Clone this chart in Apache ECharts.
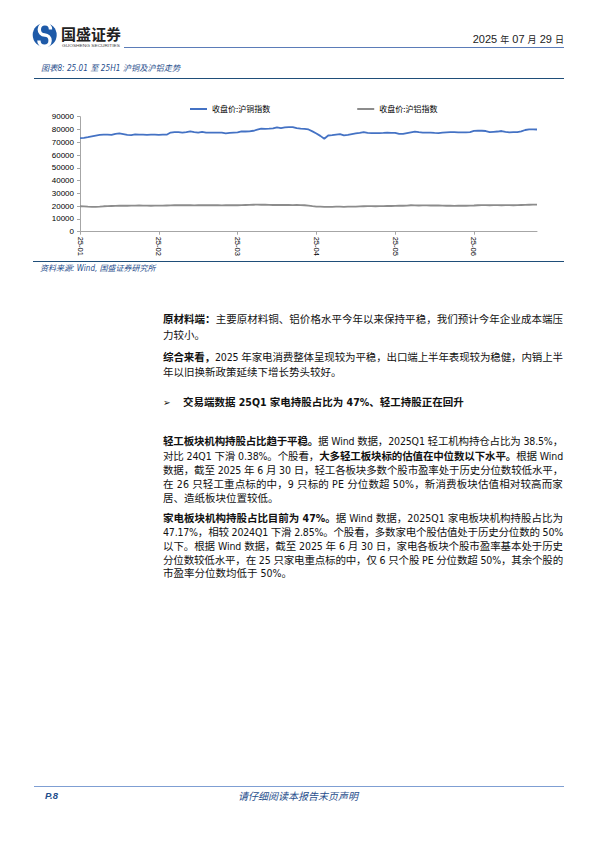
<!DOCTYPE html>
<html><head><meta charset="utf-8">
<script src="https://cdn.jsdelivr.net/npm/echarts@6/dist/echarts.min.js"></script>
<style>
html,body{margin:0;padding:0;background:#fff;}
#page{position:relative;width:595px;height:842px;overflow:hidden;background:#fff;}
#chart{position:absolute;left:0;top:0;width:595px;height:842px;}
.t{position:absolute;white-space:nowrap;font-family:"DejaVu Sans Condensed","DejaVu Sans","Noto Sans CJK SC",sans-serif;color:#111;z-index:2;}
.ln{position:absolute;left:163px;height:15px;line-height:15px;font-size:10.5px;font-family:"DejaVu Sans Condensed","DejaVu Sans","Noto Sans CJK SC",sans-serif;color:#111;white-space:nowrap;z-index:2;}
.ln b{font-weight:bold;}
.hr{position:absolute;height:0;z-index:2;}
.blue{color:#1f4e8c;font-style:italic;}
</style>
</head><body>
<div id="page">
<div id="chart"></div>

<!-- header -->
<svg class="t" style="left:0;top:0" width="140" height="56" xmlns="http://www.w3.org/2000/svg">
  <circle cx="44.7" cy="35" r="12" fill="#1e5aa8"/>
  <path d="M50.5 29.5 A5.6 5.6 0 1 0 44.7 35 A5.6 5.6 0 1 1 38.9 40.5" fill="none" stroke="#fff" stroke-width="3.4"/>
  <text x="62" y="46.8" font-size="4.2" font-family="Liberation Sans" fill="#444" textLength="58" lengthAdjust="spacingAndGlyphs">GUOSHENG SECURITIES</text>
</svg>
<div class="t" style="left:61px;top:26px;font-size:15px;line-height:15px;height:15px;font-weight:bold;font-family:'Noto Sans CJK SC';color:#222;">国盛证券</div>
<div class="t" style="right:31px;top:32px;font-size:11px;line-height:14px;color:#222;font-family:'Liberation Sans','Noto Sans CJK SC';">2025 <span style="font-size:9px;font-family:'Noto Sans CJK SC'">年</span> 07 <span style="font-size:9px;font-family:'Noto Sans CJK SC'">月</span> 29 <span style="font-size:9px;font-family:'Noto Sans CJK SC'">日</span></div>
<div class="hr" style="left:124px;width:440px;top:47px;border-top:1px solid #5b7cb8;"></div>

<div class="t blue" style="left:41px;top:62px;font-size:8.2px;line-height:12px;">图表8: 25.01 至 25H1 沪铜及沪铝走势</div>
<div class="hr" style="left:34px;width:530px;top:78px;border-top:1px solid #1f4e79;"></div>

<div class="hr" style="left:33px;width:531px;top:261px;border-top:1px solid #1f4e79;"></div>
<div class="t blue" style="left:40px;top:263px;font-size:8px;line-height:12px;">资料来源: Wind, 国盛证券研究所</div>

<!-- body -->
<div class="ln j" style="top:312px;"><b>原材料端：</b>主要原材料铜、铝价格水平今年以来保持平稳，我们预计今年企业成本端压</div>
<div class="ln" style="top:328px;">力较小。</div>
<div class="ln j" style="top:350px;"><b>综合来看，</b>2025 年家电消费整体呈现较为平稳，出口端上半年表现较为稳健，内销上半</div>
<div class="ln" style="top:365px;">年以旧换新政策延续下增长势头较好。</div>

<div class="ln" style="top:395px;"><span style="font-size:10px;font-weight:bold;">➢</span></div>
<div class="ln" style="top:395px;left:183px;"><b>交易端数据 25Q1 家电持股占比为 47%、轻工持股正在回升</b></div>

<div class="ln j" style="top:434px;"><b>轻工板块机构持股占比趋于平稳。</b>据 Wind 数据，2025Q1 轻工机构持仓占比为 38.5%，</div>
<div class="ln j" style="top:449px;">对比 24Q1 下滑 0.38%。个股看，<b>大多轻工板块标的估值在中位数以下水平。</b>根据 Wind</div>
<div class="ln j" style="top:463px;">数据，截至 2025 年 6 月 30 日，轻工各板块多数个股市盈率处于历史分位数较低水平，</div>
<div class="ln j" style="top:477px;">在 26 只轻工重点标的中，9 只标的 PE 分位数超 50%，新消费板块估值相对较高而家</div>
<div class="ln" style="top:491px;">居、造纸板块位置较低。</div>

<div class="ln j" style="top:511px;"><b>家电板块机构持股占比目前为 47%。</b>据 Wind 数据，2025Q1 家电板块机构持股占比为</div>
<div class="ln j" style="top:525px;">47.17%，相较 2024Q1 下滑 2.85%。个股看，多数家电个股估值处于历史分位数的 50%</div>
<div class="ln j" style="top:539px;">以下。根据 Wind 数据，截至 2025 年 6 月 30 日，家电各板块个股市盈率基本处于历史</div>
<div class="ln j" style="top:553px;">分位数较低水平，在 25 只家电重点标的中，仅 6 只个股 PE 分位数超 50%，其余个股的</div>
<div class="ln" style="top:566px;">市盈率分位数均低于 50%。</div>

<!-- footer -->
<div class="hr" style="left:34px;width:530px;top:786px;border-top:1.5px solid #7f9fd3;"></div>
<div class="t blue" style="left:45px;top:790px;font-size:9.5px;line-height:12px;font-weight:bold;font-family:'Liberation Sans';">P.8</div>
<div class="t blue" style="left:238px;width:120px;text-align:center;top:790px;font-size:10px;line-height:12px;font-family:'Noto Sans CJK SC';">请仔细阅读本报告末页声明</div>
</div>

<script>
// ---- data ----
const monthLabels = ['25-01', '25-02', '25-03', '25-04', '25-05', '25-06'];
const pointsPerMonth = [20, 20, 20, 20, 20, 17];
const seriesNames = ['收盘价:沪铜指数', '收盘价:沪铝指数'];
const yTicks = { min: 0, max: 90000, interval: 10000 };

const copper = [
  73300,73500,74000,74600,75200,75700,75900,75900,75700,76600,
  76900,76400,75800,75600,76100,76000,75900,75800,75900,75900,
  75800,75900,75900,77600,78000,77900,77500,77900,78500,78000,
  77600,78200,77600,77500,77600,77500,77500,77000,77400,77600,
  77700,78500,78400,78500,79000,79800,80600,80500,80600,80800,
  81600,81100,81600,81900,81900,81000,80600,80500,80000,78500,
  76900,75000,72800,75300,75600,76000,76400,75400,75800,76400,
  76900,77300,77900,77300,77200,77200,77200,77300,77500,77400,
  77400,76600,76600,77200,77800,78400,77900,77600,77600,77500,
  77300,77200,77500,77700,77900,78000,77800,77700,77800,78000,
  78900,79000,79000,78800,78000,78200,78400,78800,78200,77700,
  77900,78000,78500,79600,80100,80100,80000
];
const aluminum = [
  19900,19800,19600,19500,19500,19600,19900,20000,20100,20200,
  20300,20400,20300,20400,20400,20500,20400,20400,20300,20400,
  20400,20400,20500,20600,20700,20700,20800,20700,20700,20600,
  20700,20700,20800,20700,20700,20700,20600,20700,20800,20700,
  20700,20800,20900,21000,21100,21200,21100,21100,21000,20900,
  20900,21000,20900,20900,20800,20900,20800,20700,20400,20000,
  19700,19600,19500,19400,19500,19600,19600,19500,19600,19600,
  19700,19800,19900,20000,20000,19900,20000,20000,20100,20100,
  20200,20300,20300,20400,20700,20600,20500,20600,20600,20500,
  20600,20500,20400,20300,20300,20200,20300,20300,20300,20400,
  20500,20700,20800,20800,20700,20800,20800,20700,20800,20800,
  20700,20800,20900,21000,21100,21200,21200
];

// justify body lines to the 400px text column by adjusting letter spacing
const COLUMN_WIDTH = 400;
document.querySelectorAll('.ln.j').forEach(el => {
  const w = el.getBoundingClientRect().width;
  const n = el.textContent.length;
  el.style.letterSpacing = ((COLUMN_WIDTH - w) / n) + 'px';
});

// category keys: one per trading-day slot, labelled at each month start
const categories = [];
monthLabels.forEach((m, mi) => {
  for (let k = 0; k < pointsPerMonth[mi]; k++) categories.push(m + '#' + k);
});
const isMonthStart = (idx, val) => String(val).endsWith('#0');

const chart = echarts.init(document.getElementById('chart'), null, { renderer: 'svg' });
chart.setOption({
  animation: false,
  legend: {
    left: 185, top: 100, itemWidth: 17, itemHeight: 2, itemGap: 87, icon: 'rect',
    textStyle: { fontSize: 8, color: '#000', fontFamily: 'Noto Sans CJK SC' },
    data: seriesNames
  },
  grid: { left: 80, right: 58, top: 116.7, bottom: 610.3 },
  xAxis: {
    type: 'category', boundaryGap: false, data: categories,
    axisLine: { lineStyle: { color: '#a6a6a6', width: 1 } },
    axisTick: { interval: isMonthStart, length: 3, lineStyle: { color: '#a6a6a6' } },
    axisLabel: {
      interval: isMonthStart, rotate: -90, fontSize: 7.5, margin: 5, color: '#000',
      fontFamily: 'Liberation Sans', formatter: v => v.split('#')[0]
    }
  },
  yAxis: {
    type: 'value', min: yTicks.min, max: yTicks.max, interval: yTicks.interval,
    axisLine: { show: true, lineStyle: { color: '#a6a6a6', width: 1 } },
    axisTick: { show: true, length: 3, lineStyle: { color: '#a6a6a6' } },
    splitLine: { show: false },
    axisLabel: { fontSize: 8, margin: 6, color: '#000', fontFamily: 'Liberation Sans', formatter: v => String(v) }
  },
  series: [
    { name: seriesNames[0], type: 'line', data: copper, showSymbol: false, symbol: 'none',
      lineStyle: { width: 1.8, color: '#4472c4' }, itemStyle: { color: '#4472c4' } },
    { name: seriesNames[1], type: 'line', data: aluminum, showSymbol: false, symbol: 'none',
      lineStyle: { width: 1.8, color: '#8c8c8c' }, itemStyle: { color: '#8c8c8c' } }
  ]
});
</script>
</body></html>
